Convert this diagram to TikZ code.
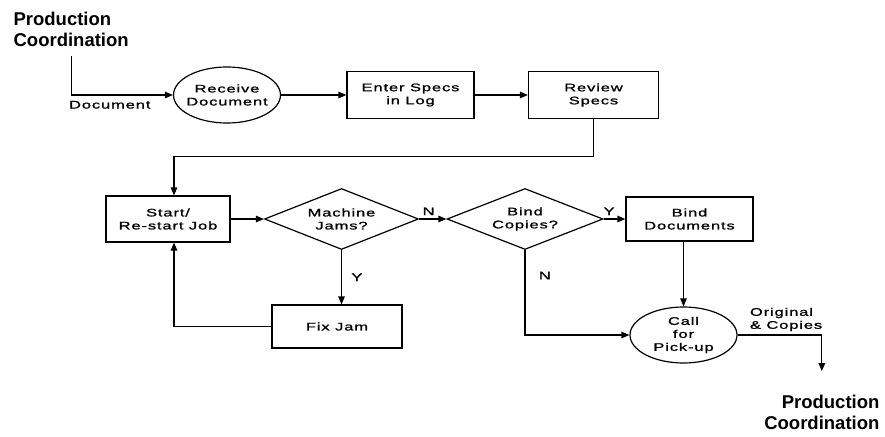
\documentclass[tikz,border=0pt]{standalone}
\usepackage{fontspec}
\usepackage{tikz}
\usetikzlibrary{shapes.geometric, arrows.meta, positioning}
\setmainfont{Liberation Sans}
\newfontfamily\flowfont[FakeStretch=1.5, LetterSpace=8, FakeBold=1.2]{Liberation Sans}

\begin{document}
\begin{tikzpicture}[x=1pt, y=1pt, node distance=183pt, >={Triangle[length=8pt, width=6.5pt]}, line width=1.2pt]
\tikzstyle{task} = [draw, rectangle, minimum width=127pt, minimum height=47pt, align=center, font=\flowfont\fontsize{11}{13}\selectfont]
\tikzstyle{event} = [draw, ellipse, minimum width=107pt, minimum height=56pt, inner xsep=-8pt, inner ysep=0pt, align=center, font=\flowfont\fontsize{11}{13}\selectfont]
\tikzstyle{query} = [draw, diamond, aspect=2.5, inner sep=0pt, minimum width=154pt, minimum height=61pt, align=center, font=\flowfont\fontsize{11}{13}\selectfont]
\tikzstyle{dept} = [inner xsep=0pt, inner ysep=8pt, font=\bfseries\fontsize{18.5}{21}\selectfont]
\tikzstyle{tag} = [font=\flowfont\fontsize{11}{13}\selectfont]
\tikzstyle{flow} = [draw, ->]

\useasboundingbox (0,0) rectangle (885,-436);

% Nodes of the intake row
\node [dept, align=left, anchor=west] (PC_in) at (13,-29.8) {Production\\Coordination};
\node [event] (receive) at (227,-95) {Receive\\Document};
\node [task, right of=receive, xshift=0.5pt] (enter) {Enter Specs\\in Log};
\node [task, right of=enter, minimum width=130pt] (review) {Review\\Specs};

% Nodes of the job row
\node [task, minimum width=124pt, minimum height=46pt] (start) at (168,-219) {Start/\\Re-start Job};
\node [query, right of=start, xshift=-9.5pt] (jams) {Machine\\Jams?};
\node [query, right of=jams, xshift=0.5pt, minimum width=156pt] (copies) {Bind\\Copies?};
\node [task, right of=copies, xshift=-18.5pt, minimum height=44pt] (bind) {Bind\\Documents};
\node [task, minimum width=130pt, minimum height=43pt] (fixjam) at (337,-326.5) {Fix Jam};
\node [event] (pickup) at (683.5,-335) {Call\\for\\Pick-up};
\node [dept, align=right, anchor=east] (PC_out) at (880,-412) {Production\\Coordination};

% Flow lines
\draw [flow] (PC_in.south) |- node[pos=0.5, below right, xshift=-6pt, yshift=-2pt, tag]{Document} (receive.west);
\draw [flow] (receive) -- (enter);
\draw [flow] (enter) -- (review);
\draw [flow] (review.south) -- ++(0,-37) -| ([xshift=6pt]start.north);
\draw [flow] (start) -- (jams);
\draw [flow] (jams) -- node[above, pos=0.35, tag]{N} (copies);
\draw [flow] (copies) -- node[above, pos=0.25, tag]{Y} (bind);
\draw [flow] (jams.south) -- node[right, xshift=6pt, tag]{Y} (jams.south |- fixjam.north);
\draw [flow] (fixjam.west) -| ([xshift=6pt]start.south);
\draw [flow] (copies.south) |- node[pos=0.15, right, xshift=10pt, tag]{N} (pickup.west);
\draw [flow] (pickup.north |- bind.south) -- (pickup.north);
\draw [flow, shorten >=15pt] (pickup.east) -| node[pos=0.05, above right, tag, align=left]{Original\\\& Copies} (PC_out.north);

\end{tikzpicture}
\end{document}
